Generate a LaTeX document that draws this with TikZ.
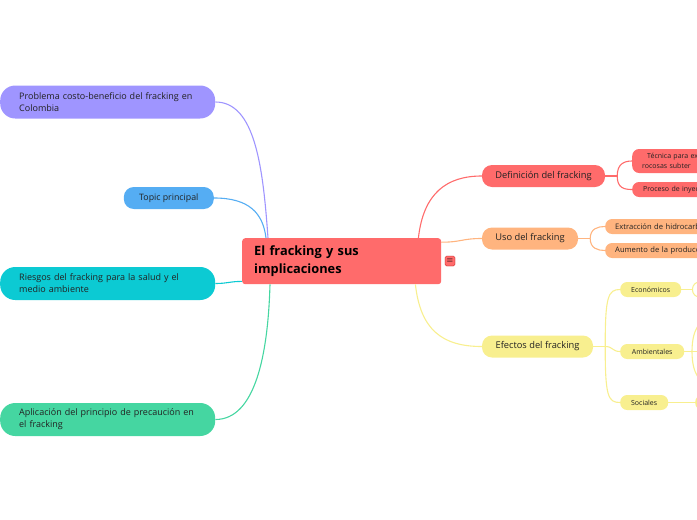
\documentclass[tikz,border=0pt]{standalone}
\usepackage{fontspec}
\setmainfont{Open Sans}
\usetikzlibrary{positioning}

\definecolor{rootred}{HTML}{FF6B6B}
\definecolor{lilac}{HTML}{9F95FF}
\definecolor{skyblue}{HTML}{55ADF3}
\definecolor{turq}{HTML}{0CCAD3}
\definecolor{mint}{HTML}{45D6A1}
\definecolor{peach}{HTML}{FFB47F}
\definecolor{lemon}{HTML}{F8EF8F}
\definecolor{ink}{HTML}{222222}

\begin{document}
\begin{tikzpicture}[
    x=1pt, y=-1pt,
    rootbox/.style={rectangle, fill=rootred, rounded corners=3pt, minimum width=199pt, minimum height=46pt, text width=175pt, inner xsep=12pt, align=left, font=\fontsize{12.8}{18}\selectfont\bfseries, text=black, anchor=north west},
    leftbox/.style={rectangle, rounded corners=15pt, minimum width=215pt, minimum height=33pt, text width=177pt, inner xsep=19pt, align=left, font=\fontsize{9}{12}\selectfont, text=ink, anchor=west},
    branchbox/.style={rectangle, rounded corners=10pt, minimum height=22pt, inner xsep=6pt, align=center, font=\fontsize{9.3}{11}\selectfont, text=ink},
    leafbox/.style={rectangle, rounded corners=7pt, minimum height=15pt, inner xsep=6pt, align=left, font=\fontsize{7}{10}\selectfont, text=ink, anchor=west},
    link/.style={line width=1.1pt},
]
    \useasboundingbox (0,0) rectangle (697,520);
    \clip (0,0) rectangle (697,520);

    % Central topic
    \node[rootbox] (root) at (242,238) {El fracking y sus\\implicaciones};
    \node[rectangle, fill=rootred, draw=red!70!black, line width=0.3pt, rounded corners=1.5pt, minimum size=10pt, inner sep=0pt, font=\footnotesize] (menu) at (450,261) {$\equiv$};

    % --- left side ---
    \node[leftbox, fill=lilac] (costo) at (0,102) {Problema costo-beneficio del fracking en\\Colombia};
    \node[branchbox, fill=skyblue, minimum width=90pt, anchor=east, font=\fontsize{8.8}{10}\selectfont] (topic) at (214,198) {Topic principal};
    \node[leftbox, fill=turq] (riesgos) at (0,283.5) {Riesgos del fracking para la salud y el\\medio ambiente};
    \node[leftbox, fill=mint] (precau) at (0,419.5) {Aplicación del principio de precaución en\\el fracking};

    \draw[link, lilac] (costo.east) .. controls +(40,0) and +(-5,-70) .. ([xshift=26pt]root.north west);
    \draw[link, skyblue] (topic.east) .. controls +(35,0) and +(-3,-25) .. ([xshift=24pt]root.north west);
    \draw[link, turq] (riesgos.east) .. controls +(12,0) and +(-12,0) .. ([yshift=3pt]root.south west);
    \draw[link, mint] (precau.east) .. controls +(40,0) and +(-2,70) .. ([xshift=28pt]root.south west);

    % --- right side: main branches ---
    \node[branchbox, fill=rootred, minimum width=123pt] (defin) at (543.5,176) {Definición del fracking};
    \node[branchbox, fill=peach, minimum width=96pt] (uso) at (530,238.5) {Uso del fracking};
    \node[branchbox, fill=lemon, minimum width=111pt] (efectos) at (537.5,346.5) {Efectos del fracking};

    \draw[link, rootred] ([xshift=-23pt]root.north east) .. controls +(5,-45) and +(-35,0) .. (defin.west);
    \draw[link, peach] ([yshift=19pt]root.east) .. controls +(20,0) and +(-20,0) .. (uso.west);
    \draw[link, lemon] ([xshift=-26pt]root.south east) .. controls +(5,45) and +(-40,0) .. (efectos.west);

    % Definicion leaves
    \node[leafbox, fill=rootred, minimum height=24pt, text width=82pt, inner xsep=10pt] (tecnica) at (632,161) {\hspace*{5pt}Técnica para ex\\rocosas subter};
    \node[leafbox, fill=rootred, text width=78pt, inner xsep=11pt] (proceso) at (632,189.5) {Proceso de inyecc};
    \coordinate (deffork) at ([xshift=12pt]defin.east);
    \draw[link, rootred] (defin.east) -- (deffork);
    \draw[link, rootred] (deffork) .. controls +(0,-12) and +(-8,0) .. (tecnica.west);
    \draw[link, rootred] (deffork) .. controls +(0,12) and +(-8,0) .. (proceso.west);

    % Uso leaves
    \node[leafbox, fill=peach, text width=100pt, inner xsep=10pt, font=\fontsize{7.6}{10}\selectfont] (extrac) at (605,226.5) {Extracción de hidrocarb};
    \node[leafbox, fill=peach, text width=100pt, inner xsep=10pt, font=\fontsize{7.6}{10}\selectfont] (aumento) at (605,250.5) {Aumento de la producci};
    \coordinate (usofork) at ([xshift=12pt]uso.east);
    \draw[link, peach] (uso.east) -- (usofork);
    \draw[link, peach] (usofork) .. controls +(0,-10) and +(-7,0) .. (extrac.west);
    \draw[link, peach] (usofork) .. controls +(0,10) and +(-7,0) .. (aumento.west);

    % Efectos leaves
    \node[leafbox, fill=lemon, minimum width=61pt, align=center] (econ) at (620,289.5) {Económicos};
    \node[leafbox, fill=lemon, minimum width=64pt, align=center] (ambien) at (620,351.5) {Ambientales};
    \node[leafbox, fill=lemon, minimum width=48pt, align=center] (social) at (620,402.5) {Sociales};
    \coordinate (efefork) at ([xshift=12pt]efectos.east);
    \draw[link, lemon] (efectos.east) -- (efefork);
    \draw[link, lemon] (efefork) .. controls +(0,-50) and +(-12,0) .. (econ.west);
    \draw[link, lemon] (efefork) .. controls +(8,0) and +(-8,0) .. (ambien.west);
    \draw[link, lemon] (efefork) .. controls +(0,50) and +(-12,0) .. (social.west);

    % next level, cut by the page edge
    \node[leafbox, fill=white, draw=lemon, line width=1pt, minimum width=40pt] (econsub) at (692,289.5) {};
    \node[leafbox, fill=lemon, minimum width=40pt] (socsub) at (695,402.5) {};
    \draw[link, lemon] (econ.east) -- (econsub.west);
    \draw[link, lemon] (social.east) -- (socsub.west);
    \coordinate (ambfork) at (692,351.5);
    \coordinate (amb1) at (714,318);
    \coordinate (amb2) at (714,351.5);
    \coordinate (amb3) at (714,385);
    \draw[link, lemon] (ambien.east) -- (ambfork);
    \draw[link, lemon] (ambfork) .. controls +(0,-25) and +(-12,0) .. (amb1);
    \draw[link, lemon] (ambfork) -- (amb2);
    \draw[link, lemon] (ambfork) .. controls +(0,25) and +(-12,0) .. (amb3);
\end{tikzpicture}
\end{document}
